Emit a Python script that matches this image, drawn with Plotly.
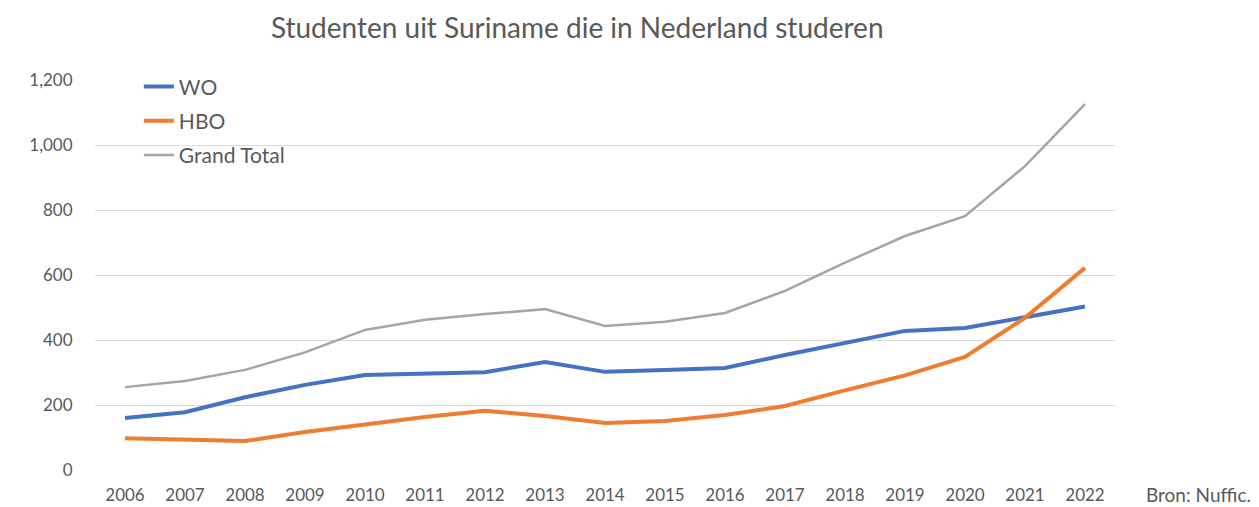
import plotly.graph_objects as go

years = [str(y) for y in range(2006, 2023)]
wo = [160, 178, 224, 262, 292, 298, 301, 332, 302, 308, 314, 354, 391, 428, 437, 470, 503]
hbo = [98, 95, 89, 117, 141, 163, 182, 166, 145, 151, 169, 197, 245, 291, 348, 468, 622]
total = [255, 274, 308, 362, 431, 462, 480, 495, 443, 456, 483, 551, 638, 720, 781, 935, 1126]

title = "Studenten uit Suriname die in Nederland studeren"
source = "Bron: Nuffic."
FONT = "Lato, 'Open Sans', sans-serif"
TXT = "#595959"

fig = go.Figure()
fig.add_trace(go.Scatter(x=years, y=wo, name="WO", mode="lines",
                         line=dict(color="#4472C4", width=4), legendgroup="a"))
fig.add_trace(go.Scatter(x=years, y=hbo, name="HBO", mode="lines",
                         line=dict(color="#ED7D31", width=4), legendgroup="b"))
fig.add_trace(go.Scatter(x=years, y=total, name="Grand Total", mode="lines",
                         line=dict(color="#A5A5A5", width=2.5), legendgroup="c"))

# page body has an 8px margin, so the figure is sized to fit the window
W, H = 1251, 499
fig.update_layout(
    width=W, height=H,
    margin=dict(l=87, r=144, t=72, b=37),
    paper_bgcolor="white", plot_bgcolor="white",
    font=dict(family=FONT, color=TXT, size=17),
    title=dict(text=title, x=0.455, xanchor="center", xref="container",
               y=0.96, yref="container", yanchor="middle",
               font=dict(size=28, color=TXT)),
    legend=dict(x=0.043, y=1.035, xanchor="left", yanchor="top",
                font=dict(size=21, color=TXT), bgcolor="rgba(0,0,0,0)",
                tracegroupgap=4, itemwidth=30),
    showlegend=True,
    xaxis=dict(type="category", range=[-0.5, 16.5], showgrid=False, zeroline=False,
               showline=False, automargin=False,
               ticks="outside", ticklen=10, tickcolor="rgba(0,0,0,0)",
               tickfont=dict(size=17, color=TXT)),
    yaxis=dict(range=[0, 1200], dtick=200, tickformat=",", showgrid=True,
               gridcolor="#D9D9D9", gridwidth=1, zeroline=False, showline=False,
               automargin=False,
               ticks="outside", ticklen=18, tickcolor="rgba(0,0,0,0)",
               tickfont=dict(size=17, color=TXT)),
)
fig.add_annotation(text=source, xref="paper", yref="paper", x=1.028, y=-0.064,
                   xanchor="left", yanchor="middle", showarrow=False,
                   font=dict(size=19, color=TXT))

fig.write_html("out.html")
